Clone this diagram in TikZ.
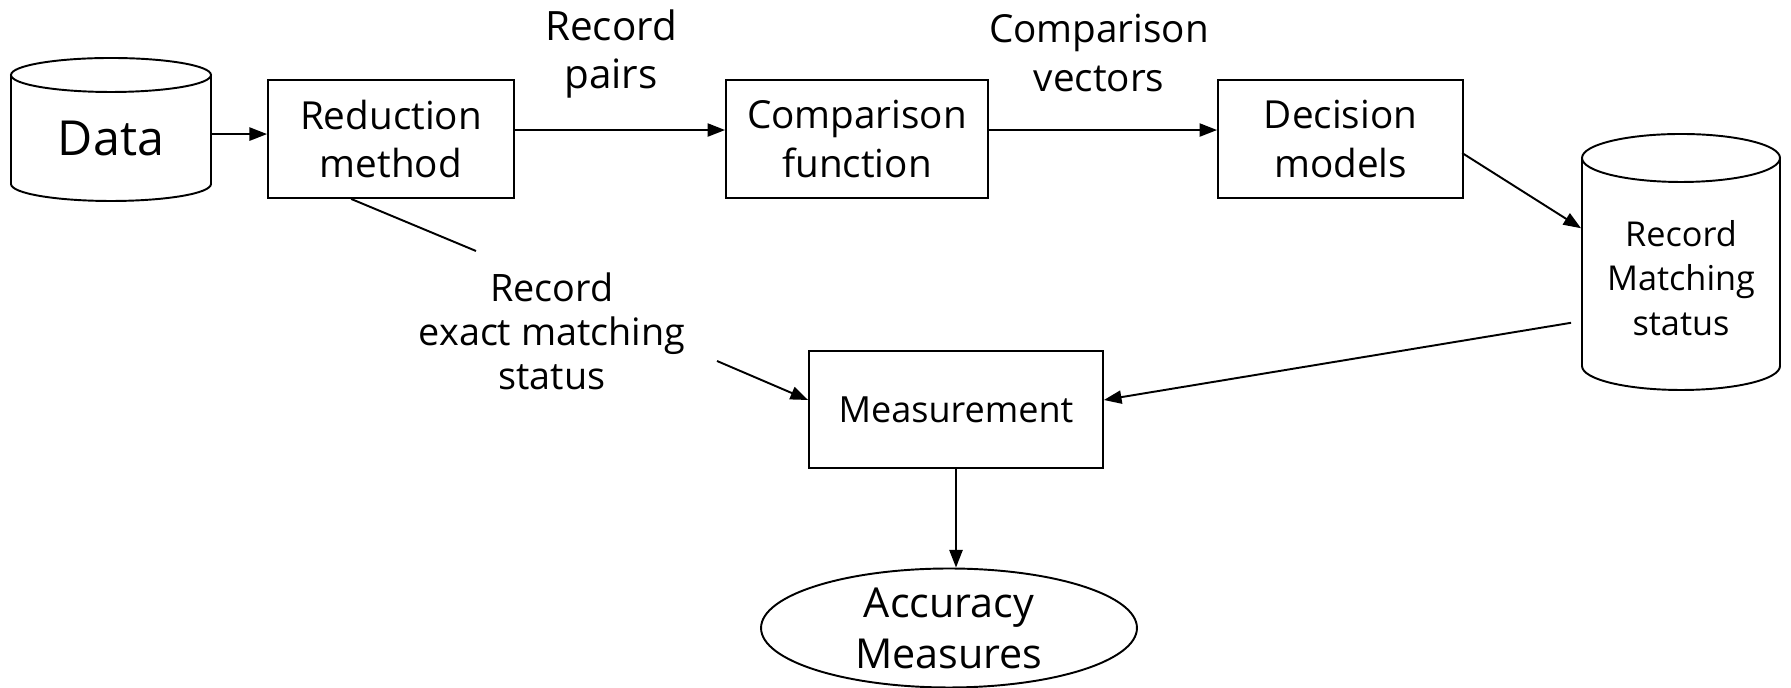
\documentclass[tikz,border=0pt]{standalone}
\usepackage{fontspec}
\setmainfont{Open Sans}
\usetikzlibrary{arrows.meta,shapes.geometric}
\begin{document}
\begin{tikzpicture}[x=0.02cm,y=0.02cm,
  line width=1.1pt,
  big/.style={font=\fontsize{22}{27.8}\selectfont, align=center},
  small/.style={font=\fontsize{20.5}{25}\selectfont, align=center},
  procbox/.style={draw, rectangle, inner sep=0pt, big},
  arr/.style={-{Triangle[length=10pt,width=7.5pt]}},
]
\useasboundingbox (0,0) rectangle (1791,688);

% cylinder outlines (data stores)
\draw (11,613) -- (11,504) arc[start angle=180, end angle=360, x radius=100, y radius=17] -- (211,613);
\draw (111,613) ellipse [x radius=100, y radius=17];
\draw (1582,530) -- (1582,322) arc[start angle=180, end angle=360, x radius=99, y radius=24] -- (1780,530);
\draw (1681,530) ellipse [x radius=99, y radius=24];

% nodes
\node[minimum width=4cm, minimum height=2.48cm, inner sep=0pt, font=\fontsize{27.5}{30}\selectfont] (data) at (111,549) {Data};
\node[procbox, minimum width=4.92cm, minimum height=2.36cm] (red) at (391,549) {Reduction\\method};
\node[procbox, minimum width=5.24cm, minimum height=2.36cm] (comp) at (857,549) {Comparison\\function};
\node[procbox, minimum width=4.90cm, minimum height=2.36cm] (dec) at (1340.5,549) {Decision\\models};
\node[small, font=\fontsize{19.5}{25.5}\selectfont, minimum width=3.96cm, minimum height=4.48cm, inner sep=0pt] (rms) at (1681,410) {Record\\Matching\\status};
\node[draw, small, minimum width=5.88cm, minimum height=2.34cm, inner sep=0pt] (meas) at (956,278.5) {Measurement};
\node[ellipse, draw, big, font=\fontsize{23.5}{29}\selectfont, minimum width=7.52cm, minimum height=2.38cm, inner sep=0pt] (acc) at (949,60) {Accuracy\\Measures};

% edge labels
\node[big, font=\fontsize{23}{27.8}\selectfont] (lp) at (611,634) {Record\\pairs};
\node[big] (lv) at (1099,635) {Comparison\\vectors};
\node[small, font=\fontsize{21.5}{25}\selectfont] (lx) at (552,357) {Record\\exact matching\\status};
\coordinate (gapA) at (476,437);
\coordinate (gapB) at (717,327);

% connectors
\draw[arr] ([yshift=2.8pt]data.east) -- ([yshift=2.8pt]red.west);
\draw[arr] ([yshift=5.1pt]red.east) -- ([yshift=5.1pt]comp.west);
\draw[arr] ([yshift=5.1pt]comp.east) -- ([yshift=5.1pt]dec.west);
\draw[arr] ([yshift=-8pt,xshift=-1pt]dec.east) -- ([yshift=28.3pt]rms.west);
\draw[arr] ([xshift=-5.7pt,yshift=-25.5pt]rms.west) -- ([yshift=5.4pt]meas.east);
\draw ([xshift=-22.7pt]red.south) -- (gapA);
\draw[arr] (gapB) -- ([yshift=5.4pt]meas.west);
\draw[arr] (meas.south) -- (meas.south |- acc.north);
\end{tikzpicture}
\end{document}
